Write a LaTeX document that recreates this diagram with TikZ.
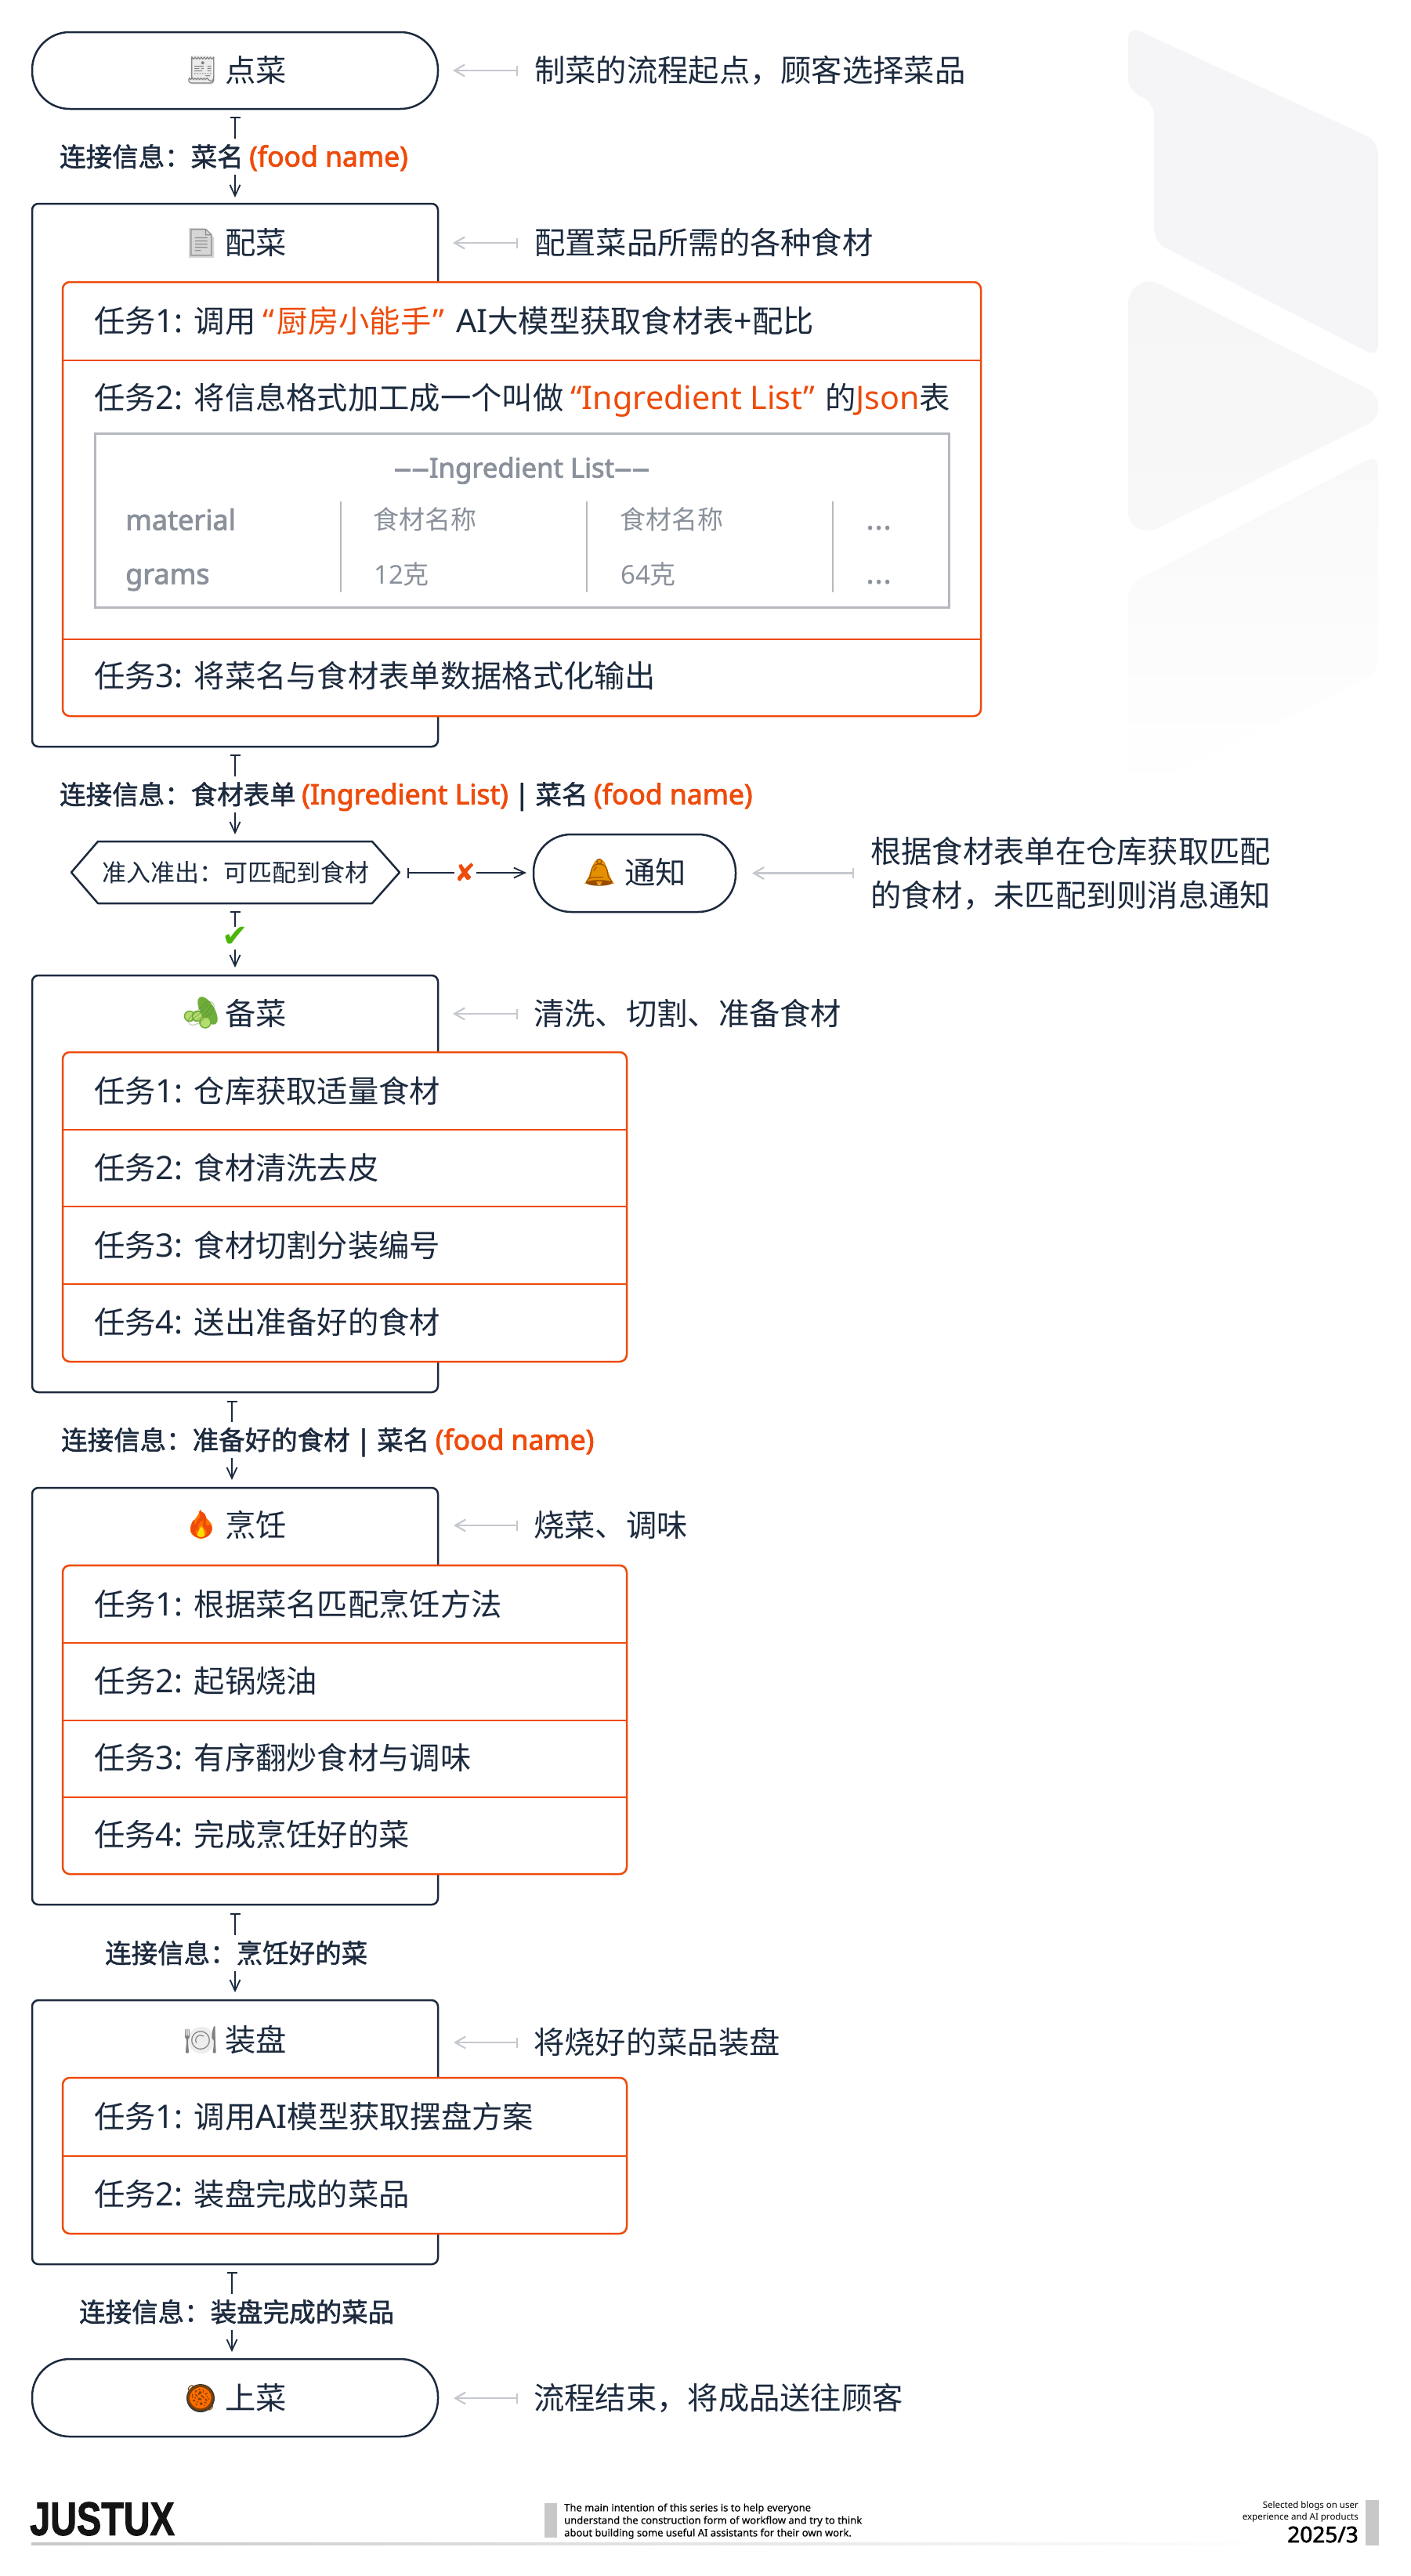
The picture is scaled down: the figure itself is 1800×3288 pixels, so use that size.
\documentclass[tikz,border=0pt]{standalone}
\usepackage{fontspec}
\usepackage{graphicx}
\usetikzlibrary{arrows.meta,calc}
\setmainfont{Noto Sans CJK SC}
\newfontfamily\lat[Scale=1.05]{Noto Sans}
\newfontfamily\latf{Noto Sans}
\newfontfamily\latm[FakeBold=0.3]{Noto Sans}
\newfontfamily\lathead[FakeBold=2.4]{Noto Sans}
\newfontfamily\latb[FakeBold=2.2]{Noto Sans}
\newfontfamily\latl[Scale=1.06,FakeBold=2.4]{Noto Sans}
\newfontfamily\cjkm[FakeBold=1.5]{Noto Sans CJK SC}
\newfontfamily\emo{Noto Emoji}
\newfontfamily\djv{DejaVu Sans}
\newfontfamily\heavy[FakeBold=2]{Liberation Sans Bold}
\definecolor{ink}{HTML}{1C2A3E}
\definecolor{accent}{HTML}{EE4B0B}
\definecolor{soft}{HTML}{C5C8CE}
\definecolor{tbl}{HTML}{B5B9BF}
\definecolor{tbltext}{HTML}{8A919B}
\definecolor{foot}{HTML}{C8C8C8}
\definecolor{mark1}{HTML}{F5F5F7}
\definecolor{mark2}{HTML}{F6F6F7}
\definecolor{mark3}{HTML}{F8F8F9}
\definecolor{okgreen}{HTML}{4CB50A}
\definecolor{cukebody}{HTML}{6FAE3A}
\definecolor{cukeslice}{HTML}{B5DC6E}
\newcommand\fs[1]{\fontsize{#1}{#1}\selectfont}
\newcommand\La[1]{{\lat #1}}
\newcommand\Or[1]{\textcolor{accent}{#1}}
\newcommand\rectnode[6]{\node[#2,anchor=north west,minimum width={(#5-#3)*1pt},minimum height={(#6-#4)*1pt}] (#1) at (#3,#4) {};}
\tikzset{
  cardbox/.style={draw=ink,line width=2.5pt,rounded corners=8pt,fill=white,inner sep=0pt,outer sep=0pt},
  pillbox/.style={draw=ink,line width=2.5pt,rounded corners=48pt,fill=white,inner sep=0pt,outer sep=0pt},
  taskbox/.style={draw=accent,line width=2.5pt,rounded corners=9pt,fill=white,inner sep=0pt,outer sep=0pt},
  taskline/.style={draw=accent,line width=2.5pt},
  rowtext/.style={anchor=west,inner sep=0pt,text=ink,font=\fs{39.3},text height=34pt,text depth=5pt},
  titletext/.style={rowtext},
  notetext/.style={rowtext},
  emoji/.style={inner sep=0pt,font=\emo\fs{34}},
  linktext/.style={anchor=west,inner sep=0pt,text=ink,font=\cjkm\fs{33.5},minimum height=45pt,text height=29pt,text depth=4pt},
  startlink/.style={draw=ink,line width=1.8pt,{Bar[width=13pt,line width=1.8pt]}-},
  endlink/.style={draw=ink,line width=1.8pt,-{Straight Barb[length=14pt,width=13pt,line width=1.8pt]}},
  notelink/.style={draw=soft,line width=2.2pt,{Straight Barb[length=13pt,width=15pt,line width=2.2pt]}-{Bar[width=13pt,line width=2.2pt]}},
  tablecell/.style={anchor=west,inner sep=0pt,text=tbltext,font=\fs{33},text height=29pt,text depth=4pt},
  tablehead/.style={anchor=west,inner sep=0pt,text=tbltext,font=\lathead\fs{36},text height=31pt,text depth=4pt},
  tablerule/.style={draw=tbl,line width=2pt},
  foottext/.style={inner sep=0pt,text=black,font=\latm\fs{13}},
}
\begin{document}
\begin{tikzpicture}[x=1pt,y=-1pt]
\useasboundingbox (0,0) rectangle (1800,3288);
% background mark
\path[fill=mark1,rounded corners=16pt]
  (1440,33) -- (1759,180) -- (1759,456) -- (1473,309) -- (1473,131) -- (1440,116) -- cycle;
\path[top color=mark2,bottom color=mark3]
  (1440,388) .. controls (1440,368) and (1458,354) .. (1477,361) -- (1743,495) .. controls (1765,503) and (1765,535) .. (1743,543) -- (1477,675) .. controls (1458,682) and (1440,672) .. (1440,653) -- cycle;
\path[top color=mark3,bottom color=white,rounded corners=16pt]
  (1440,746) -- (1759,580) -- (1759,858) -- (1440,1016) -- cycle;

% flow nodes
\rectnode{order}{pillbox}{41}{41}{559}{139}
\rectnode{prep}{cardbox}{41}{260}{559}{953}
\rectnode{prept}{taskbox}{80}{360}{1252}{914}
\rectnode{wash}{cardbox}{41}{1245}{559}{1777}
\rectnode{washt}{taskbox}{80}{1343}{800}{1738}
\rectnode{cook}{cardbox}{41}{1899}{559}{2431}
\rectnode{cookt}{taskbox}{80}{1998}{800}{2392}
\rectnode{plate}{cardbox}{41}{2553}{559}{2890}
\rectnode{platet}{taskbox}{80}{2652}{800}{2851}
\rectnode{serve}{pillbox}{41}{3011}{559}{3110}
\rectnode{notify}{pillbox}{681}{1065}{939}{1164}

% task dividers
\draw[taskline] (prept.west |- 0,460) -- (prept.east |- 0,460);
\draw[taskline] (prept.west |- 0,816) -- (prept.east |- 0,816);
\foreach \yy in {1442,1540,1639} \draw[taskline] (washt.west |- 0,\yy) -- (washt.east |- 0,\yy);
\foreach \yy in {2097,2196,2294} \draw[taskline] (cookt.west |- 0,\yy) -- (cookt.east |- 0,\yy);
\draw[taskline] (platet.west |- 0,2752) -- (platet.east |- 0,2752);

% emoji colour backings
\fill[black!8] (243,71) rectangle (271,108);
\fill[black!16] (241,291) -- (261,291) -- (273,303) -- (273,329) -- (241,329) -- cycle;
\fill[cukebody,rotate around={-60:(265,1290)}] (265,1290) ellipse (20 and 9);
\fill[cukeslice,draw=cukebody,line width=1.5pt] (242,1297) circle (6.5);
\fill[cukeslice,draw=cukebody,line width=1.5pt] (252,1297) circle (6.5);
\fill[cukeslice,draw=cukebody,line width=1.5pt] (262,1305) circle (7);
\fill[orange!90!red] (256,1926) .. controls (258,1938) and (272,1940) .. (271,1952) .. controls (270,1964) and (246,1968) .. (243,1954) .. controls (241,1944) and (253,1938) .. (256,1926) -- cycle;
\fill[yellow!80!orange] (257,1948) .. controls (262,1954) and (263,1964) .. (256,1965) .. controls (249,1964) and (252,1954) .. (257,1948) -- cycle;
\fill[black!7] (257,2604) circle (17);
\fill[black!78] (256,3061) circle (18);
\fill[orange!85!red] (256,3061) circle (14);
\fill[orange!75!yellow!90!black] (765,1096) .. controls (776,1098) and (774,1116) .. (784,1128) -- (746,1128) .. controls (756,1116) and (754,1098) .. (765,1096) -- cycle;

% titles
\node[titletext] (t1) at (287,90) {点菜};
\node[emoji,text=black!50] (e1) at (257,90) {🧾};
\node[titletext] (t2) at (287,310) {配菜};
\node[emoji,text=black!45] (e2) at (257,310) {📄};
\node[titletext] (t3) at (287,1294) {备菜};
\node[emoji,text=cukebody!70!black,opacity=0.35] (e3) at (257,1294) {🥒};
\node[titletext] (t4) at (287,1947) {烹饪};
\node[emoji,text=accent] (e4) at (257,1947) {🔥};
\node[titletext] (t5) at (287,2604) {装盘};
\node[emoji,text=black!50] (e5) at (256,2604) {🍽};
\node[titletext] (t6) at (287,3061) {上菜};
\node[emoji,text=orange!50!black] (e6) at (256,3061) {🥘};
\node[titletext] (t7) at (797,1114) {通知};
\node[emoji,text=orange!60!black] (e7) at (765,1114) {🔔};

% notes
\node[notetext] (n1) at (682,90) {制菜的流程起点，顾客选择菜品};
\node[notetext] (n2) at (682,310) {配置菜品所需的各种食材};
\node[notetext,align=left,text height=,text depth=] (n3) at (1111,1115) {根据食材表单在仓库获取匹配\\[17pt]的食材，未匹配到则消息通知};
\node[notetext] (n4) at (681,1294) {清洗、切割、准备食材};
\node[notetext] (n5) at (681,1947) {烧菜、调味};
\node[notetext] (n6) at (681,2607) {将烧好的菜品装盘};
\node[notetext] (n7) at (681,3061) {流程结束，将成品送往顾客};
\draw[notelink] ($(order.east |- n1.west)+(19,0)$) -- ($(n1.west)+(-21,0)$);
\draw[notelink] ($(prep.east |- n2.west)+(19,0)$) -- ($(n2.west)+(-21,0)$);
\draw[notelink] ($(notify.east)+(21,0)$) -- ($(n3.west |- notify.east)+(-21,0)$);
\draw[notelink] ($(wash.east |- n4.west)+(19,0)$) -- ($(n4.west)+(-20,0)$);
\draw[notelink] ($(cook.east |- n5.west)+(20,0)$) -- ($(n5.west)+(-20,0)$);
\draw[notelink] ($(plate.east |- n6.west)+(20,0)$) -- ($(n6.west)+(-20,0)$);
\draw[notelink] ($(serve.east |- n7.west)+(20,0)$) -- ($(n7.west)+(-20,0)$);

% task rows
\node[rowtext] (r11) at (120,410) {任务\La{1: }调用 \Or{\La{“}\kern4pt 厨房小能手\kern2pt\La{”}}\kern6pt\ \La{AI}大模型获取食材表\La{+}配比};
\node[rowtext] (r12) at (120,508) {任务\La{2: }将信息格式加工成一个叫做 \Or{\La{“Ingredient List”}}\kern4pt\ 的\Or{\La{Json}}表};
\node[rowtext] (r13) at (120,863) {任务\La{3: }将菜名与食材表单数据格式化输出};
\node[rowtext] (r21) at (120,1393) {任务\La{1: }仓库获取适量食材};
\node[rowtext] (r22) at (120,1491) {任务\La{2: }食材清洗去皮};
\node[rowtext] (r23) at (120,1590) {任务\La{3: }食材切割分装编号};
\node[rowtext] (r24) at (120,1688) {任务\La{4: }送出准备好的食材};
\node[rowtext] (r31) at (120,2048) {任务\La{1: }根据菜名匹配烹饪方法};
\node[rowtext] (r32) at (120,2146) {任务\La{2: }起锅烧油};
\node[rowtext] (r33) at (120,2244) {任务\La{3: }有序翻炒食材与调味};
\node[rowtext] (r34) at (120,2342) {任务\La{4: }完成烹饪好的菜};
\node[rowtext] (r41) at (120,2702) {任务\La{1: }调用\La{AI}模型获取摆盘方案};
\node[rowtext] (r42) at (120,2801) {任务\La{2: }装盘完成的菜品};

% ingredient table
\rectnode{tab}{draw=tbl,line width=3pt,inner sep=0pt,outer sep=0pt}{121}{553}{1211}{775}
\node[tablehead,anchor=center,font=\lathead\fs{34.6}] (th) at (666,596) {\scalebox{1.3}[1]{––}Ingredient List\scalebox{1.3}[1]{––}};
\node[tablehead] (c11) at (160,663) {material};
\node[tablehead] (c21) at (160,732) {grams};
\node[tablecell] (c12) at (476,663) {食材名称};
\node[tablecell] (c22) at (477,733) {{\latf 12}克};
\node[tablecell] (c13) at (791,663) {食材名称};
\node[tablecell] (c23) at (792,733) {{\latf 64}克};
\node[tablecell,font=\latf\fs{42}] (c14) at (1105,664) {...};
\node[tablecell,font=\latf\fs{42}] (c24) at (1105,733) {...};
\draw[tablerule] (434.5,640) -- (434.5,756);
\draw[tablerule] (749,640) -- (749,756);
\draw[tablerule] (1063,640) -- (1063,756);

% links
\node[linktext] (l1) at (76,200) {连接信息：菜名 \Or{\latl (food name)}};
\node[linktext] (l2) at (76,1014) {连接信息：食材表单 \Or{\latl (Ingredient List)} {\latl |} 菜名 \Or{\latl (food name)}};
\node[linktext] (l3) at (78,1838) {连接信息：准备好的食材 {\latl |} 菜名 \Or{\latl (food name)}};
\node[linktext] (l4) at (134,2493) {连接信息：烹饪好的菜};
\node[linktext] (l5) at (101,2951) {连接信息：装盘完成的菜品};
\coordinate (a1s) at (300,149); \coordinate (a1e) at (300,252);
\coordinate (a2s) at (300,963); \coordinate (a2e) at (300,1065);
\coordinate (a3s) at (296,1788); \coordinate (a3e) at (296,1889);
\coordinate (a4s) at (300,2442); \coordinate (a4e) at (300,2543);
\coordinate (a5s) at (296,2900); \coordinate (a5e) at (296,3002);
\foreach \n in {1,2,3,4,5}{
  \draw[startlink] (a\n s) -- (a\n s |- l\n.north);
  \draw[endlink] (a\n e |- l\n.south) -- (a\n e);
}

% gate
\node[inner sep=0pt,outer sep=0pt,minimum width=419pt,minimum height=79pt,text=ink,font=\fs{31}] (gate) at (300.5,1113.5) {准入准出：可匹配到食材};
\draw[draw=ink,line width=2.5pt,line join=round] (gate.west) -- ($(gate.north west)+(34,0)$) -- ($(gate.north east)+(-35,0)$) -- (gate.east) -- ($(gate.south east)+(-35,0)$) -- ($(gate.south west)+(34,0)$) -- cycle;
\node[inner sep=0pt,text=accent,font=\djv\bfseries\fs{32}] (xm) at (594,1114) {✘};
\node[inner sep=0pt,text=okgreen,font=\djv\fs{40}] (ok) at (300,1196) {✔};
\coordinate (g1) at (520,1114); \coordinate (g2) at (672,1114);
\coordinate (g3) at (300,1163); \coordinate (g4) at (300,1235);
\draw[startlink] (g1) -- (580,1114);
\draw[endlink] (608,1114) -- (g2);
\draw[startlink] (g3) -- (300,1183);
\draw[endlink] (300,1212) -- (g4);

% footer
\node[anchor=west,inner sep=0pt,font=\heavy\fs{60},text=black!92] (logo) at (38,3215) {\scalebox{0.78}[1]{JUSTUX}};
\shade[left color=foot,right color=white] (40,3245) rectangle (1630,3248);
\fill[foot] (695,3195) rectangle (711,3239);
\fill[foot] (1743,3191) rectangle (1760,3249);
\node[foottext,anchor=west] (f1) at (720,3202) {The main intention of this series is to help everyone};
\node[foottext,anchor=west] (f2) at (720,3218) {understand the construction form of workflow and try to think};
\node[foottext,anchor=west] (f3) at (720,3234) {about building some useful AI assistants for their own work.};
\node[foottext,anchor=east,font=\latf\fs{11.5}] (f4) at (1734,3198) {Selected blogs on user};
\node[foottext,anchor=east,font=\latf\fs{11.5}] (f5) at (1734,3213) {experience and AI products};
\node[foottext,anchor=east,font=\latb\fs{28}] (f6) at (1734,3235) {2025/3};
\end{tikzpicture}
\end{document}
